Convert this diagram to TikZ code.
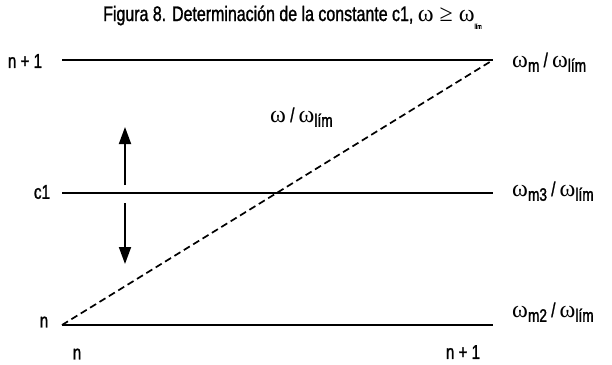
\documentclass[tikz,border=0pt]{standalone}
\usepackage{fontspec}
\setmainfont{Liberation Sans}[FakeStretch=0.76,FakeBold=1.2]
\newfontfamily\subfont{Liberation Sans}[FakeStretch=0.76,FakeBold=1.6]
\newfontfamily\grk{Liberation Serif}
\usetikzlibrary{arrows.meta}
\newcommand{\wsub}[1]{{\grk\fontsize{24}{25}\selectfont ω}\raisebox{-0.45ex}{\subfont\fontsize{18}{19}\selectfont #1}}
\begin{document}
\begin{tikzpicture}[x=1pt,y=-1pt,
  lvl/.style={line width=2pt},
  lab/.style={font=\fontsize{20}{21}\selectfont, inner sep=0pt},
  rlab/.style={font=\fontsize{20}{21}\selectfont, inner sep=0pt, anchor=base west},
  arr/.style={line width=1.8pt, -{Triangle[length=17pt,width=12pt]}}]
\useasboundingbox (0,0) rectangle (612,364);
\node[font=\fontsize{21}{22}\selectfont, inner sep=0pt, anchor=base west] (title) at (103,21)
  {Figura 8. Determinación de la constante c1, {\grk\fontsize{24}{25}\selectfont ω ≥ ω}\raisebox{-0.7ex}{\fontsize{7}{8}\selectfont lím}};
\coordinate (t0) at (62,60); \coordinate (t1) at (493,60);
\coordinate (m0) at (62,193); \coordinate (m1) at (493,193);
\coordinate (b0) at (62,325); \coordinate (b1) at (493,325);
\draw[lvl] (t0) -- (t1);
\draw[lvl] (m0) -- (m1);
\draw[lvl] (b0) -- (b1);
\draw[line width=1.7pt, dash pattern=on 7pt off 4pt] (b0) -- (t1);
\node[lab] (ln1) at (25,61) {n + 1};
\node[lab] (lc1) at (42,192) {c1};
\node[lab] (ln) at (44,322) {n};
\node[lab] (bn) at (77,354) {n};
\node[lab] (bn1) at (463,352) {n + 1};
\node[rlab] (rt) at (512,67) {\wsub{m} / \wsub{lím}};
\node[rlab] (rm) at (512,196) {\wsub{m3} / \wsub{lím}};
\node[rlab] (rb) at (512,317) {\wsub{m2} / \wsub{lím}};
\node[rlab] (mid) at (270,122) {\wsub{} / \wsub{lím}};
\coordinate (a0) at (125,185); \coordinate (a1) at (125,127);
\coordinate (d0) at (125,203); \coordinate (d1) at (125,264);
\draw[arr] (a0) -- (a1);
\draw[arr] (d0) -- (d1);
\end{tikzpicture}
\end{document}
